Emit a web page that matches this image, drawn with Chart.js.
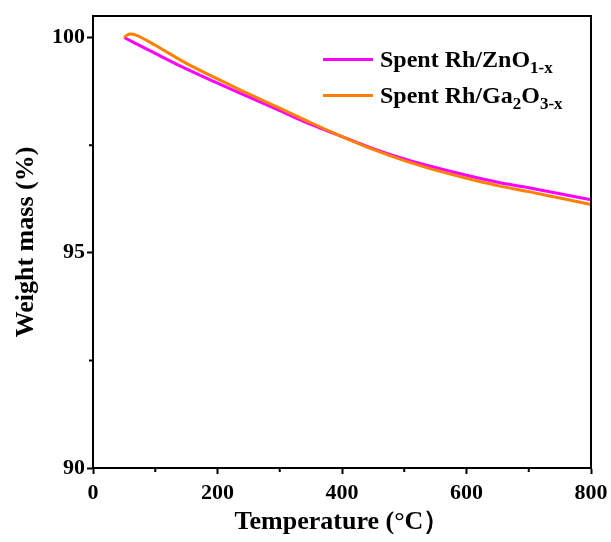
<!DOCTYPE html>
<html lang="en">
<head>
<meta charset="UTF-8">
<title>TGA | Spent catalysts</title>
<script src="https://cdn.jsdelivr.net/npm/chart.js@4.4.0/dist/chart.umd.min.js"></script>
<style>
    body { margin: 0; background: #fff; }
    .wrap { position: relative; width: 611px; height: 542px; }
    .legend {
        position: absolute; left: 323px; top: 41px;
        font-family: 'Liberation Serif', 'Times New Roman', serif;
        font-weight: bold; font-size: 24px; color: #000;
    }
    .legend .row { display: flex; align-items: center; height: 36px; }
    .legend .swatch { width: 50px; height: 3px; margin-right: 7px; }
    .legend sub { font-size: 17px; vertical-align: -6px; line-height: 0; }
</style>
</head>
<body>
<div class="wrap">
    <canvas id="tga" width="611" height="542"></canvas>
    <div class="legend">
        <div class="row"><span class="swatch" style="background:#FF00FF"></span><span>Spent Rh/ZnO<sub>1-x</sub></span></div>
        <div class="row"><span class="swatch" style="background:#FF8000"></span><span>Spent Rh/Ga<sub>2</sub>O<sub>3-x</sub></span></div>
    </div>
</div>
<script>
// values
const tempZno = [50, 100, 150, 200, 250, 300, 350, 400, 450, 500, 550, 600, 650, 700, 750, 800];
const massZno = [100.00, 99.63, 99.27, 98.94, 98.62, 98.30, 97.98, 97.70, 97.42, 97.18, 96.98, 96.80, 96.64, 96.51, 96.37, 96.23];
const tempGa = [50, 55, 60, 70, 100, 150, 200, 250, 300, 350, 400, 450, 500, 550, 600, 650, 700, 750, 800];
const massGa = [100.00, 100.06, 100.08, 100.05, 99.82, 99.40, 99.04, 98.69, 98.36, 98.02, 97.70, 97.40, 97.14, 96.92, 96.73, 96.56, 96.42, 96.27, 96.12];
const yTicks = [90, 95, 100];
const yMinor = [92.5, 97.5];
const xMinor = [100, 300, 500, 700];

const serif = "'Liberation Serif', 'Times New Roman', serif";

// frame on top/right + short minor ticks
const framePlugin = {
    id: 'frame',
    afterDraw(chart) {
        const { ctx, chartArea: a, scales } = chart;
        ctx.save();
        ctx.strokeStyle = '#000';
        ctx.lineWidth = 2;
        ctx.beginPath();
        ctx.moveTo(a.left, a.top);
        ctx.lineTo(a.right, a.top);
        ctx.lineTo(a.right, a.bottom);
        ctx.stroke();
        ctx.beginPath();
        xMinor.forEach(v => {
            const x = scales.x.getPixelForValue(v);
            ctx.moveTo(x, a.bottom);
            ctx.lineTo(x, a.bottom + 4);
        });
        yMinor.forEach(v => {
            const y = scales.y.getPixelForValue(v);
            ctx.moveTo(a.left, y);
            ctx.lineTo(a.left - 4, y);
        });
        ctx.stroke();
        ctx.restore();
    }
};

new Chart(document.getElementById('tga'), {
    type: 'line',
    data: {
        datasets: [
            {
                label: 'Spent Rh/Ga2O3-x',
                data: tempGa.map((t, i) => ({ x: t, y: massGa[i] })),
                borderColor: '#FF8000',
                borderWidth: 3,
                pointRadius: 0,
                cubicInterpolationMode: 'monotone',
                order: 0
            },
            {
                label: 'Spent Rh/ZnO1-x',
                data: tempZno.map((t, i) => ({ x: t, y: massZno[i] })),
                borderColor: '#FF00FF',
                borderWidth: 3,
                pointRadius: 0,
                cubicInterpolationMode: 'monotone',
                order: 1
            }
        ]
    },
    options: {
        responsive: false,
        animation: false,
        layout: { padding: { top: 16, right: 20, left: 0, bottom: 0 } },
        plugins: { legend: { display: false }, tooltip: { enabled: false } },
        scales: {
            x: {
                type: 'linear',
                min: 0, max: 800,
                ticks: { stepSize: 200, color: '#000', padding: 6, font: { family: serif, size: 22, weight: 'bold' } },
                grid: { drawOnChartArea: false, drawTicks: true, tickLength: 6, tickWidth: 2, color: '#000' },
                border: { display: true, color: '#000', width: 2 },
                title: { display: true, text: 'Temperature (°C）', color: '#000', padding: { top: 0, bottom: 4 }, font: { family: serif, size: 26, weight: 'bold' } },
                afterFit: s => { s.height = 74; s.paddingLeft = 0; s.paddingRight = 0; }
            },
            y: {
                min: 90, max: 100.5,
                afterBuildTicks: s => { s.ticks = yTicks.map(v => ({ value: v })); },
                ticks: { color: '#000', padding: 2, font: { family: serif, size: 22, weight: 'bold' } },
                grid: { drawOnChartArea: false, drawTicks: true, tickLength: 6, tickWidth: 2, color: '#000' },
                border: { display: true, color: '#000', width: 2 },
                title: { display: true, text: 'Weight mass (%)', color: '#000', padding: { top: 11, bottom: 0 }, font: { family: serif, size: 26, weight: 'bold' } },
                afterFit: s => { s.width = 93; s.paddingTop = 0; s.paddingBottom = 0; }
            }
        }
    },
    plugins: [framePlugin]
});
</script>
</body>
</html>
